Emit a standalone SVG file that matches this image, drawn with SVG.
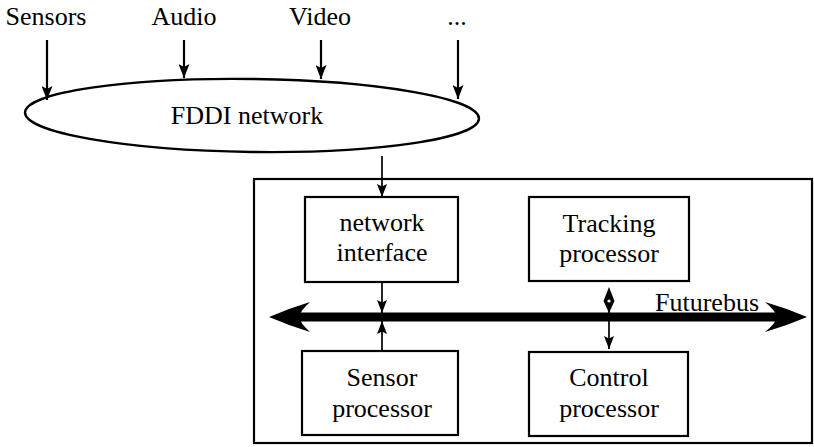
<svg xmlns="http://www.w3.org/2000/svg" width="814" height="447" viewBox="0 0 814 447">
  <style>
    text { font-family: "Liberation Serif", "DejaVu Serif", "Times New Roman", serif; font-size: 26px; fill: #000; text-anchor: middle; }
    .box { fill: #fff; stroke: #000; stroke-width: 2.2; }
    .wire { stroke: #000; stroke-width: 2.2; fill: none; }
    .thin { stroke: #000; stroke-width: 1.7; fill: none; }
  </style>
  <defs>
    <marker id="ah" viewBox="0 0 14 11" refX="14" refY="5.5" markerWidth="14" markerHeight="11" markerUnits="userSpaceOnUse" orient="auto">
      <path d="M0,0 L14,5.5 L0,11 L3,5.5 z" fill="#000"/>
    </marker>
    <marker id="ahs" viewBox="0 0 13 10" refX="13" refY="5" markerWidth="13" markerHeight="10" markerUnits="userSpaceOnUse" orient="auto">
      <path d="M0,0 L13,5 L0,10 L2.5,5 z" fill="#000"/>
    </marker>
  </defs>

  <rect width="814" height="447" fill="#fff"/>

  <!-- sources -->
  <g id="src-sensors"><text x="46" y="25">Sensors</text></g>
  <g id="src-audio"><text x="184" y="25">Audio</text></g>
  <g id="src-video"><text x="320" y="25">Video</text></g>
  <g id="src-more"><text x="457" y="25">...</text></g>

  <!-- FDDI ring -->
  <g id="fddi">
    <ellipse cx="252" cy="115.5" rx="227" ry="36.5" transform="rotate(0.76 252 115.5)" fill="#fff" stroke="#000" stroke-width="2.4"/>
    <text x="247" y="124">FDDI network</text>
  </g>

  <!-- enclosing node -->
  <g id="node">
    <rect x="254" y="179" width="558" height="264" fill="none" stroke="#000" stroke-width="2.2"/>
  </g>

  <g id="net-if">
    <rect class="box" x="305" y="197" width="153" height="85"/>
    <text x="382" y="231">network</text>
    <text x="382" y="261">interface</text>
  </g>
  <g id="tracking">
    <rect class="box" x="529" y="197" width="160" height="84"/>
    <text x="609" y="232">Tracking</text>
    <text x="609" y="262">processor</text>
  </g>
  <g id="sensor-proc">
    <rect class="box" x="302" y="351" width="156" height="84"/>
    <text x="382" y="386">Sensor</text>
    <text x="382" y="417">processor</text>
  </g>
  <g id="control">
    <rect class="box" x="529" y="352" width="159" height="84"/>
    <text x="609" y="386">Control</text>
    <text x="609" y="417">processor</text>
  </g>

  <!-- Futurebus -->
  <g id="futurebus">
    <line x1="292" y1="317" x2="786" y2="317" stroke="#000" stroke-width="9"/>
    <path d="M269,317 Q290,308 310,302 Q300,311 299,317 Q300,323 310,332 Q290,326 269,317 z" fill="#000"/>
    <path d="M807,317 Q786,308 765,302 Q776,311 777,317 Q776,323 765,332 Q786,326 807,317 z" fill="#000"/>
    <text x="707" y="311">Futurebus</text>
  </g>

  <!-- connectors -->
  <g id="connectors">
    <line class="wire" x1="47" y1="40" x2="47" y2="100" marker-end="url(#ah)"/>
    <line class="wire" x1="184" y1="40" x2="184" y2="78" marker-end="url(#ah)"/>
    <line class="wire" x1="321" y1="40" x2="321" y2="79" marker-end="url(#ah)"/>
    <line class="wire" x1="458" y1="40" x2="458" y2="99" marker-end="url(#ah)"/>
    <line class="thin" x1="382" y1="156" x2="382" y2="197" marker-end="url(#ahs)"/>
    <line class="thin" x1="382" y1="282" x2="382" y2="313" marker-end="url(#ahs)"/>
    <line class="thin" x1="382" y1="351" x2="382" y2="321" marker-end="url(#ahs)"/>
    <line class="thin" x1="609" y1="295" x2="609" y2="349" marker-end="url(#ahs)"/>
    <path d="M609,287 L614.5,301 L609,313 L603.5,301 z" fill="#000"/>
    <circle cx="609" cy="301" r="1.6" fill="#fff"/>
  </g>
</svg>
